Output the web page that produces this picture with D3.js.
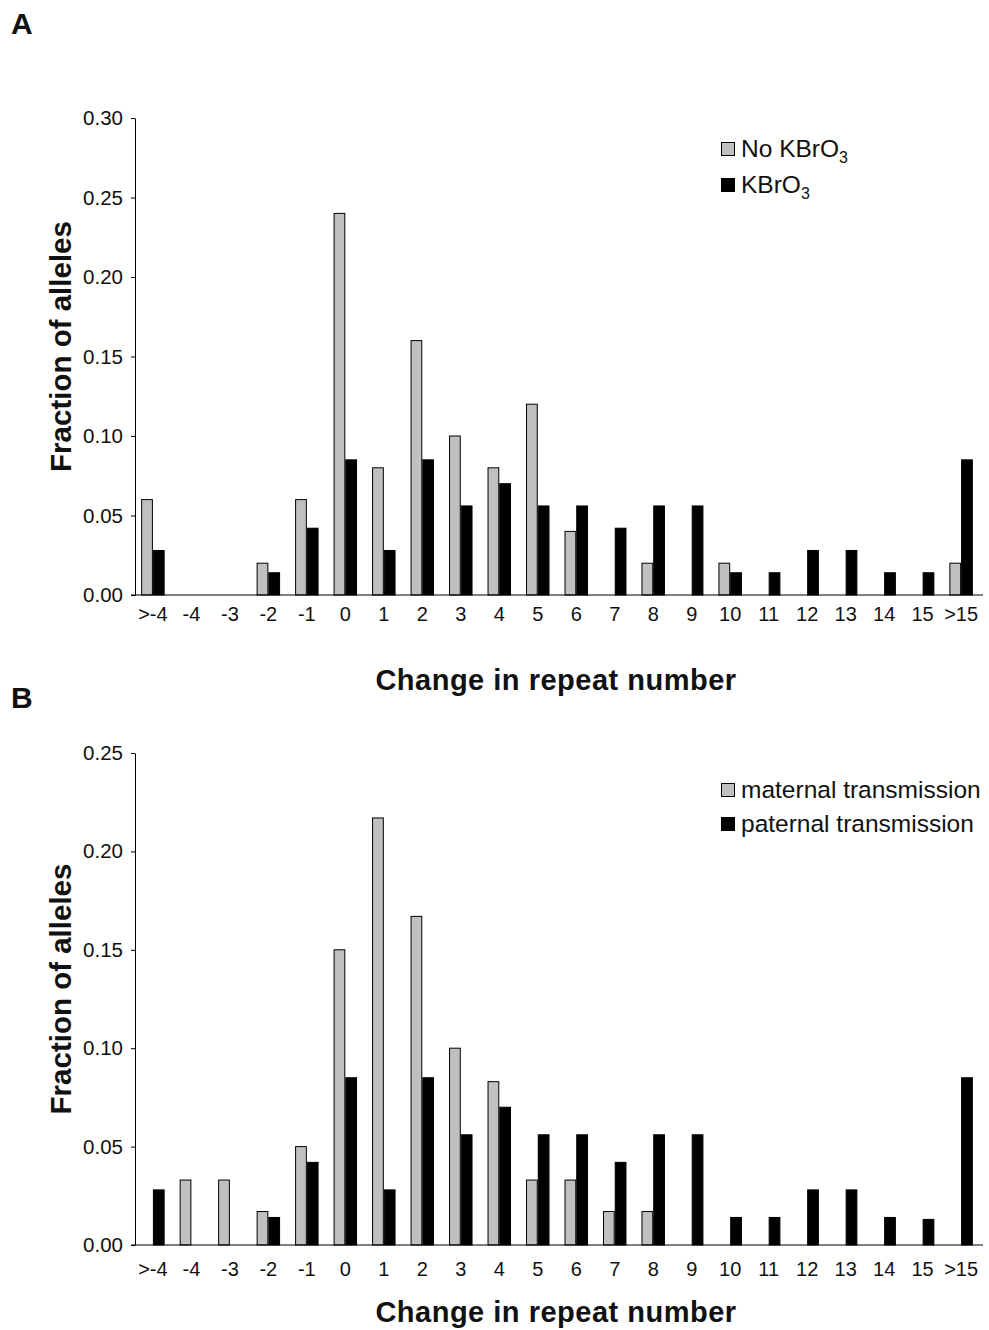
<!DOCTYPE html>
<html>
<head>
<meta charset="utf-8">
<script src="https://cdn.jsdelivr.net/npm/d3@7"></script>
<style>
  body { margin: 0; background: #fff; }
  text { font-family: "Liberation Sans", Arial, Helvetica, sans-serif; fill: #111; }
</style>
</head>
<body>
<div id="chart"></div>
<script>
// categories on the x axis (same for both panels)
const categories = [">-4", "-4", "-3", "-2", "-1", "0", "1", "2", "3", "4", "5", "6",
  "7", "8", "9", "10", "11", "12", "13", "14", "15", ">15"];

// panel A
const noKBrO3 = [0.06, 0, 0, 0.02, 0.06, 0.24, 0.08, 0.16, 0.10, 0.08, 0.12, 0.04,
  0, 0.02, 0, 0.02, 0, 0, 0, 0, 0, 0.02];
const withKBrO3 = [0.028, 0, 0, 0.014, 0.042, 0.085, 0.028, 0.085, 0.056, 0.070, 0.056, 0.056,
  0.042, 0.056, 0.056, 0.014, 0.014, 0.028, 0.028, 0.014, 0.014, 0.085];
const ticksA = [0, 0.05, 0.10, 0.15, 0.20, 0.25, 0.30];

// panel B
const maternal = [0, 0.033, 0.033, 0.017, 0.05, 0.15, 0.217, 0.167, 0.10, 0.083, 0.033, 0.033,
  0.017, 0.017, 0, 0, 0, 0, 0, 0, 0, 0];
const paternal = [0.028, 0, 0, 0.014, 0.042, 0.085, 0.028, 0.085, 0.056, 0.070, 0.056, 0.056,
  0.042, 0.056, 0.056, 0.014, 0.014, 0.028, 0.028, 0.014, 0.013, 0.085];
const ticksB = [0, 0.05, 0.10, 0.15, 0.20, 0.25];

var W = 989, H = 1330;
var GRAY = "#c0c0c0";

var svg = d3.select("#chart").append("svg")
  .attr("width", W)
  .attr("height", H);

var x = d3.scaleBand()
  .domain(categories)
  .range([135, 979])
  .paddingInner(0.39)
  .paddingOuter(0.16);

var x1 = d3.scaleBand()
  .domain(["a", "b"])
  .range([0, x.bandwidth()]);

function draw_panel(opt) {
  var y = d3.scaleLinear()
    .domain([0, opt.max])
    .range([opt.bottom, opt.top]);

  var g = svg.append("g");

  // panel letter
  g.append("text")
    .attr("x", 11)
    .attr("y", opt.letterY)
    .style("font-size", "30px")
    .style("font-weight", "bold")
    .text(opt.letter);

  var series = [
    {key: "a", values: opt.s1, fill: GRAY},
    {key: "b", values: opt.s2, fill: "#000"}
  ];

  series.forEach(function(s) {
    var rows = categories.map(function(c, i) { return {cat: c, v: s.values[i]}; })
      .filter(function(d) { return d.v > 0; });
    g.selectAll(null)
      .data(rows)
      .enter().append("rect")
      .attr("x", function(d) { return x(d.cat) + x1(s.key) + 0.5; })
      .attr("y", function(d) { return y(d.v); })
      .attr("width", x1.bandwidth() - 1)
      .attr("height", function(d) { return y(0) - y(d.v); })
      .attr("fill", s.fill)
      .attr("stroke", "#000")
      .attr("stroke-width", 1);
  });

  // y axis
  var ya = g.append("g")
    .attr("transform", "translate(135,0)")
    .call(d3.axisLeft(y).tickValues(opt.ticks).tickFormat(d3.format(".2f"))
      .tickSize(4).tickSizeOuter(0).tickPadding(8));
  ya.selectAll("text").style("font-size", "20.5px").attr("fill", "#111");
  ya.selectAll("line, path").attr("stroke", "#000");

  // x axis
  var xa = g.append("g")
    .attr("transform", "translate(0," + opt.bottom + ")")
    .call(d3.axisBottom(x).tickSize(0).tickPadding(opt.xPad));
  xa.select(".domain").remove();
  xa.append("line")
    .attr("x1", 131).attr("x2", 983)
    .attr("stroke", "#000");
  xa.selectAll("text").style("font-size", "20px").attr("fill", "#111");

  // axis titles
  g.append("text")
    .attr("x", 556)
    .attr("y", opt.xTitleY)
    .attr("text-anchor", "middle")
    .style("font-size", "29px")
    .style("letter-spacing", "0.5px")
    .style("font-weight", "bold")
    .text("Change in repeat number");

  g.append("text")
    .attr("transform", "translate(71," + ((opt.top + opt.bottom) / 2 - 10) + ") rotate(-90)")
    .attr("text-anchor", "middle")
    .style("font-size", "29.5px")
    .style("font-weight", "bold")
    .text("Fraction of alleles");

  // legend
  var lg = g.append("g").attr("transform", "translate(721," + opt.legendY + ")");
  opt.labels.forEach(function(lab, i) {
    var row = lg.append("g").attr("transform", "translate(0," + i * opt.legendStep + ")");
    row.append("rect")
      .attr("x", 0.5).attr("y", 0.5)
      .attr("width", 13).attr("height", 13)
      .attr("fill", series[i].fill)
      .attr("stroke", "#000");
    var t = row.append("text")
      .attr("x", 20)
      .attr("y", 15)
      .style("font-size", "24.5px");
    t.append("tspan").text(lab.main);
    if (lab.sub) {
      t.append("tspan")
        .attr("dy", 6)
        .style("font-size", "16px")
        .text(lab.sub);
    }
  });
}

draw_panel({
  letter: "A", letterY: 34,
  top: 118, bottom: 595, max: 0.30, ticks: ticksA,
  s1: noKBrO3, s2: withKBrO3,
  xPad: 12, xTitleY: 690,
  legendY: 142, legendStep: 36,
  labels: [{main: "No KBrO", sub: "3"}, {main: "KBrO", sub: "3"}]
});

draw_panel({
  letter: "B", letterY: 708,
  top: 753, bottom: 1245, max: 0.25, ticks: ticksB,
  s1: maternal, s2: paternal,
  xPad: 17, xTitleY: 1322,
  legendY: 783, legendStep: 34,
  labels: [{main: "maternal transmission"}, {main: "paternal transmission"}]
});
</script>
</body>
</html>
